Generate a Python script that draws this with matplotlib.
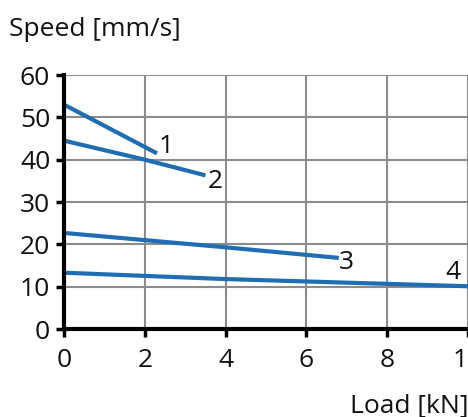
import matplotlib
matplotlib.use("Agg")
import matplotlib.pyplot as plt

plt.rcParams['font.family'] = ['Open Sans', 'DejaVu Sans']

# curves, load [kN] vs speed [mm/s]
load1 = [0, 2.3]
speed1 = [53, 41.5]
load2 = [0, 2, 3.5]
speed2 = [44.5, 40, 36.3]
load3 = [0, 4, 6.8]
speed3 = [22.7, 19.3, 16.8]
load4 = [0, 4, 10]
speed4 = [13.3, 11.8, 10.1]
labels = ['1', '2', '3', '4']
label_pos = [(2.35, 41.7), (3.55, 33.2), (6.8, 14.2), (9.45, 11.9)]

xticks = [0, 2, 4, 6, 8, 10]
yticks = [0, 10, 20, 30, 40, 50, 60]

blue = '#1f6db3'

fig = plt.figure(figsize=(4.68, 4.17), dpi=100)
ax = fig.add_axes([0.137, 0.211, 0.863, 0.609])

for xs, ys in [(load1, speed1), (load2, speed2), (load3, speed3), (load4, speed4)]:
    ax.plot(xs, ys, color=blue, lw=3, solid_capstyle='butt', clip_on=False, zorder=3)

for lab, (x, y) in zip(labels, label_pos):
    ax.text(x, y, lab, fontsize=19, ha='left', va='baseline', color='#111111')

ax.set_xlim(0, 10)
ax.set_ylim(0, 60)
ax.set_xticks(xticks)
ax.set_yticks(yticks)
ax.tick_params(labelsize=19, width=2.5, length=6, direction='out', colors='black',
               labelcolor='#111111')
ax.tick_params(axis='x', pad=8)
ax.tick_params(axis='y', pad=4)
ax.grid(True, color='#8c8c8c', lw=1.5)
ax.set_axisbelow(True)

for s in ['top', 'right']:
    ax.spines[s].set_visible(False)
for s in ['left', 'bottom']:
    ax.spines[s].set_linewidth(3)
    ax.spines[s].set_color('black')
    ax.spines[s].set_zorder(4)

fig.text(0.02, 0.93, 'Speed [mm/s]', fontsize=19, ha='left', va='center', color='#111111')
fig.text(1.0, 0.027, 'Load [kN]', fontsize=19, ha='right', va='center', color='#111111')

fig.savefig('out.png', dpi=100)
